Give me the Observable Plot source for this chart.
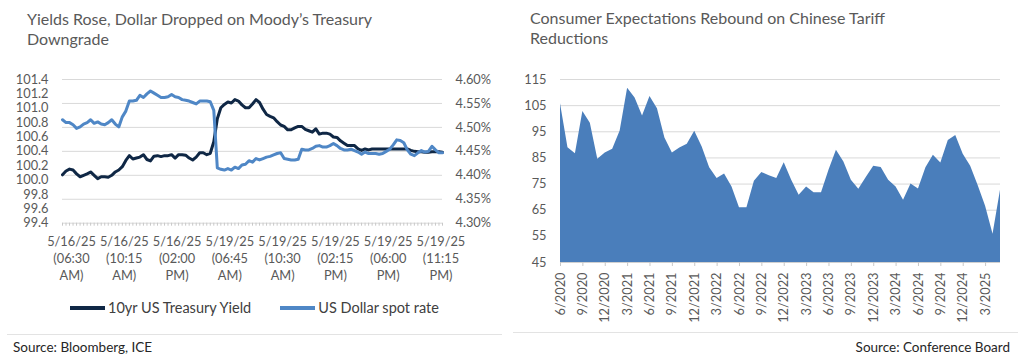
<!DOCTYPE html>
<html><head><meta charset="utf-8">
<script src="https://cdn.jsdelivr.net/npm/d3@7"></script>
<script src="https://cdn.jsdelivr.net/npm/@observablehq/plot@0.6"></script>
<style>
body{margin:0;background:#fff;font-family:Lato,"Open Sans",sans-serif;}
#wrap{position:relative;width:1024px;height:364px;overflow:hidden;background:#fff;}
.title{position:absolute;font-size:16px;line-height:20px;color:#595959;white-space:nowrap;}
.rule{position:absolute;height:1px;background:#e3e3e3;}
.src{position:absolute;font-size:13.5px;color:#262626;white-space:nowrap;}
#legend{position:absolute;left:70px;top:299px;display:flex;align-items:center;font-size:14.5px;color:#404040;white-space:nowrap;}
.sw{width:35px;height:4px;margin-right:3px;}
</style></head><body>
<div id="wrap">
  <div class="title" style="left:27px;top:9px">Yields Rose, Dollar Dropped on Moody’s Treasury<br>Downgrade</div>
  <div class="title" style="left:530px;top:8px">Consumer Expectations Rebound on Chinese Tariff<br>Reductions</div>
  <div id="left" style="position:absolute;left:0;top:60px"></div>
  <div id="right" style="position:absolute;left:510px;top:60px"></div>
  <div id="legend"></div>
  <div class="rule" style="left:7px;top:334px;width:495px"></div>
  <div class="rule" style="left:513px;top:332px;width:505px"></div>
  <div class="src" style="left:13px;top:339px">Source: Bloomberg, ICE</div>
  <div class="src" style="right:14px;top:339px">Source: Conference Board</div>
</div>
<script>
// ---------- Left chart data ----------
const seriesNames = ["10yr US Treasury Yield", "US Dollar spot rate"];
const seriesColors = ["#0f2745", "#4f87c6"];
const yield10 = [
 4.401,4.409,4.413,4.411,4.403,4.397,4.400,4.403,4.407,4.400,
 4.393,4.397,4.397,4.396,4.400,4.407,4.411,4.418,4.431,4.441,
 4.434,4.436,4.438,4.443,4.433,4.430,4.440,4.441,4.439,4.441,
 4.441,4.443,4.436,4.443,4.443,4.442,4.436,4.432,4.438,4.447,
 4.447,4.443,4.446,4.470,4.518,4.541,4.548,4.553,4.551,4.558,
 4.555,4.547,4.541,4.541,4.549,4.558,4.552,4.538,4.527,4.523,
 4.520,4.512,4.505,4.502,4.495,4.495,4.499,4.502,4.502,4.496,
 4.493,4.490,4.497,4.486,4.488,4.488,4.486,4.480,4.479,4.472,
 4.467,4.462,4.462,4.462,4.455,4.452,4.455,4.453,4.455,4.455,
 4.455,4.455,4.455,4.455,4.455,4.455,4.455,4.455,4.455,4.452,
 4.450,4.449,4.449,4.448,4.448,4.449,4.449,4.449,4.448
];
const dollar = [
 100.84,100.80,100.80,100.77,100.72,100.74,100.78,100.80,100.84,100.79,
 100.81,100.78,100.77,100.80,100.84,100.78,100.74,100.88,100.96,101.10,
 101.10,101.11,101.18,101.15,101.20,101.24,101.21,101.18,101.15,101.15,
 101.16,101.19,101.16,101.15,101.12,101.11,101.10,101.08,101.06,101.10,
 101.10,101.10,101.09,100.97,100.17,100.15,100.14,100.16,100.14,100.18,
 100.16,100.21,100.22,100.27,100.25,100.30,100.28,100.30,100.32,100.33,
 100.35,100.37,100.38,100.30,100.29,100.28,100.28,100.29,100.43,100.42,
 100.42,100.44,100.47,100.48,100.46,100.46,100.48,100.51,100.48,100.44,
 100.42,100.42,100.43,100.41,100.39,100.36,100.39,100.37,100.37,100.37,
 100.36,100.37,100.40,100.43,100.49,100.56,100.55,100.52,100.42,100.36,
 100.34,100.38,100.41,100.39,100.40,100.47,100.42,100.38,100.38
];
const xLabelIdx = [0,15,30,45,60,75,90,105];
const xLabels = [
 "5/16/25\n(06:30\nAM)","5/16/25\n(10:15\nAM)","5/16/25\n(02:00\nPM)","5/19/25\n(06:45\nAM)",
 "5/19/25\n(10:30\nAM)","5/19/25\n(02:15\nPM)","5/19/25\n(06:00\nPM)","5/19/25\n(11:15\nPM)"
];
const leftTicks = [99.4,99.6,99.8,100.0,100.2,100.4,100.6,100.8,101.0,101.2,101.4];
const rightTicks = [4.30,4.35,4.40,4.45,4.50,4.55,4.60];

// ---------- Right chart data ----------
const monthLabels = [];
{ let m = 6, y = 2020; for (let k = 0; k < 60; k++) { monthLabels.push(m + "/" + y); m++; if (m > 12) { m = 1; y++; } } }
const expectations = [
 105.7,88.9,86.6,102.8,98.3,84.5,86.9,88.3,95.3,111.7,
 107.9,101.0,108.5,103.8,92.6,86.9,88.8,90.2,95.2,89.2,
 81.2,77.1,78.9,73.9,65.9,65.9,76.1,79.4,78.2,77.1,
 83.2,76.5,70.7,73.9,71.7,71.7,80.3,87.9,83.4,76.5,
 73.0,77.5,81.8,81.3,76.5,73.9,68.8,75.0,73.1,81.2,
 86.0,83.1,91.7,93.6,86.4,81.8,74.5,66.5,55.8,72.6
];
const rightYTicks = [45,55,65,75,85,95,105,115];
const monthTickIdx = d3.range(0, 60, 3);

// ---------- Left chart ----------
const lMin = leftTicks[0], lMax = leftTicks[leftTicks.length-1];
const rMin = rightTicks[0], rMax = rightTicks[rightTicks.length-1];
const toL = v => lMin + (v - rMin) * (lMax - lMin) / (rMax - rMin);
const fromL = v => rMin + (v - lMin) * (rMax - rMin) / (lMax - lMin);
const n = dollar.length;
const rowsL = d3.range(n).map(i => ({i, dollar: dollar[i], yl: toL(yield10[i])}));
const labelRows = xLabelIdx.map((i, k) => ({i, label: xLabels[k]}));

const left = Plot.plot({
  width: 510, height: 240,
  marginLeft: 62, marginRight: 68, marginTop: 19, marginBottom: 77.3,
  style: {fontFamily: "Lato, sans-serif", fontSize: "12.8px", color: "#595959", background: "transparent", overflow: "visible"},
  x: {domain: [0, n - 1], axis: null},
  y: {domain: [lMin, lMax], axis: null},
  marks: [
    Plot.gridY(rightTicks.map(toL), {stroke: "#d9d9d9", strokeOpacity: 1}),
    Plot.axisX(d3.range(n), {tickSize: 3, tickFormat: () => "", label: null, stroke: "#c8c8c8", strokeOpacity: 1}),
    Plot.axisY(leftTicks, {anchor: "left", tickSize: 0, tickPadding: 14, label: null, tickFormat: d3.format(".1f")}),
    Plot.axisY(rightTicks.map(toL), {anchor: "right", tickSize: 0, tickPadding: 13, label: null, tickFormat: d => fromL(d).toFixed(2) + "%"}),
    Plot.line(rowsL, {x: "i", y: "yl", stroke: seriesColors[0], strokeWidth: 3, strokeLinejoin: "round"}),
    Plot.line(rowsL, {x: "i", y: "dollar", stroke: seriesColors[1], strokeWidth: 3, strokeLinejoin: "round"}),
    Plot.text(labelRows, {x: "i", text: "label", frameAnchor: "bottom", lineAnchor: "top", dy: 11, dx: 9, lineHeight: 1.33, fill: "#595959", fontSize: 12.8})
  ]
});
document.getElementById("left").appendChild(left);

// legend
const lg = document.getElementById("legend");
seriesNames.forEach((name, k) => {
  const sw = document.createElement("div"); sw.className = "sw"; sw.style.background = seriesColors[k];
  const tx = document.createElement("span"); tx.textContent = name; if (k === 0) tx.style.marginRight = "29px";
  lg.appendChild(sw); lg.appendChild(tx);
});

// ---------- Right chart ----------
const rowsR = expectations.map((v, i) => ({i, v}));
const right = Plot.plot({
  width: 514, height: 250,
  marginLeft: 50, marginRight: 24, marginTop: 19, marginBottom: 48,
  style: {fontFamily: "Lato, sans-serif", fontSize: "12.8px", color: "#595959", background: "transparent", overflow: "visible"},
  x: {domain: [0, expectations.length - 1], axis: null},
  y: {domain: [rightYTicks[0], rightYTicks[rightYTicks.length - 1]], axis: null},
  marks: [
    Plot.gridY(rightYTicks.slice(1), {stroke: "#d9d9d9", strokeOpacity: 1}),
    Plot.areaY(rowsR, {x: "i", y1: rightYTicks[0], y2: "v", fill: "#4a7ebb"}),
    Plot.ruleY([rightYTicks[0]], {stroke: "#d0d0d0"}),
    Plot.axisX(monthTickIdx, {tickSize: 4, tickPadding: 6, tickRotate: -90, label: null, tickFormat: i => monthLabels[i], stroke: "#c8c8c8", strokeOpacity: 1}),
    Plot.axisY(rightYTicks, {tickSize: 0, tickPadding: 14, label: null})
  ]
});
document.getElementById("right").appendChild(right);
</script>
</body></html>
